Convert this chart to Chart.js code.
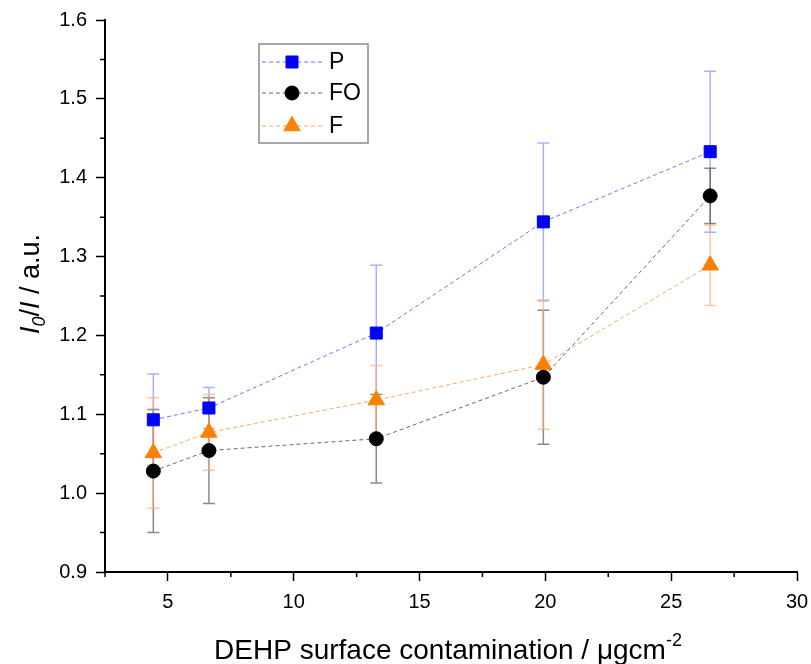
<!DOCTYPE html>
<html>
<head>
<meta charset="utf-8">
<script src="https://cdn.jsdelivr.net/npm/chart.js@4/dist/chart.umd.min.js"></script>
<style>
  html, body { margin: 0; padding: 0; background: #fff; }
  #wrap { width: 811px; height: 664px; }
</style>
</head>
<body>
<div id="wrap"><canvas id="chart"></canvas></div>
<script>
// Data
const contamination = [4.42, 6.63, 13.28, 19.92, 26.55];
const seriesNames = ['P', 'FO', 'F'];
const pValues  = [1.093, 1.108, 1.203, 1.344, 1.433];
const pErrors  = [0.058, 0.026, 0.086, 0.100, 0.102];
const foValues = [1.028, 1.054, 1.069, 1.147, 1.377];
const foErrors = [0.078, 0.067, 0.056, 0.085, 0.035];
const fValues  = [1.051, 1.077, 1.118, 1.163, 1.289];
const fErrors  = [0.070, 0.048, 0.044, 0.082, 0.051];
const xTicks = [5, 10, 15, 20, 25, 30];
const yTicks = [0.9, 1.0, 1.1, 1.2, 1.3, 1.4, 1.5, 1.6];

const FONT = '"Liberation Sans", Arial, sans-serif';

function points(values) {
    return contamination.map((x, i) => ({ x: x, y: values[i] }));
}

// Error bars, drawn under the markers
const errorBars = {
    id: 'errorBars',
    beforeDatasetsDraw(chart) {
        const { ctx, scales: { x, y } } = chart;
        chart.data.datasets.forEach(ds => {
            ctx.save();
            ctx.strokeStyle = ds.errorColor;
            ctx.lineWidth = 1.5;
            ds.data.forEach((p, i) => {
                const px = x.getPixelForValue(p.x);
                const top = y.getPixelForValue(p.y + ds.errors[i]);
                const bot = y.getPixelForValue(p.y - ds.errors[i]);
                ctx.beginPath();
                ctx.moveTo(px, top); ctx.lineTo(px, bot);
                ctx.moveTo(px - 6, top); ctx.lineTo(px + 6, top);
                ctx.moveTo(px - 6, bot); ctx.lineTo(px + 6, bot);
                ctx.stroke();
            });
            ctx.restore();
        });
    }
};

// Minor ticks, axis titles and the boxed legend
const decorations = {
    id: 'decorations',
    afterDraw(chart) {
        const { ctx, chartArea: area, scales: { x, y } } = chart;
        ctx.save();
        ctx.strokeStyle = '#000';
        ctx.lineWidth = 1.5;
        ctx.beginPath();
        for (let i = 0; i < xTicks.length; i++) {
            const px = x.getPixelForValue(xTicks[i] - 2.5);
            ctx.moveTo(px, area.bottom); ctx.lineTo(px, area.bottom + 5);
        }
        for (let i = 0; i < yTicks.length - 1; i++) {
            const py = y.getPixelForValue(yTicks[i] + 0.05);
            ctx.moveTo(area.left, py); ctx.lineTo(area.left - 5, py);
        }
        ctx.stroke();

        // x title with superscript
        ctx.fillStyle = '#000';
        ctx.textBaseline = 'alphabetic';
        ctx.textAlign = 'left';
        const main = 'DEHP surface contamination / \u03bcgcm';
        ctx.font = '28px ' + FONT;
        const wMain = ctx.measureText(main).width;
        ctx.font = '18px ' + FONT;
        const wSup = ctx.measureText('-2').width;
        const sx = 448 - (wMain + wSup) / 2;
        ctx.font = '28px ' + FONT;
        ctx.fillText(main, sx, 659);
        ctx.font = '18px ' + FONT;
        ctx.fillText('-2', sx + wMain, 646);

        // y title, rotated, with italic I and subscript 0
        const parts = [
            { t: 'I', f: 'italic 27px ' + FONT, dy: 0 },
            { t: '0', f: 'italic 18px ' + FONT, dy: 6 },
            { t: '/', f: '27px ' + FONT, dy: 0 },
            { t: 'I', f: 'italic 27px ' + FONT, dy: 0 },
            { t: ' / a.u.', f: '27px ' + FONT, dy: 0 }
        ];
        let total = 0;
        parts.forEach(p => { ctx.font = p.f; p.w = ctx.measureText(p.t).width; total += p.w; });
        ctx.translate(39, 284);
        ctx.rotate(-Math.PI / 2);
        let cx = -total / 2;
        parts.forEach(p => { ctx.font = p.f; ctx.fillText(p.t, cx, p.dy); cx += p.w; });
        ctx.setTransform(1, 0, 0, 1, 0, 0);

        // legend
        const lx = 259, ly = 44, lw = 109, lh = 99;
        ctx.strokeStyle = '#8c8c8c';
        ctx.lineWidth = 1.5;
        ctx.strokeRect(lx, ly, lw, lh);
        const rowY = [62, 93, 126];
        chart.data.datasets.forEach((ds, i) => {
            const yy = rowY[i];
            ctx.save();
            ctx.strokeStyle = ds.borderColor;
            ctx.lineWidth = 1;
            ctx.setLineDash([4, 3]);
            ctx.beginPath();
            ctx.moveTo(262, yy); ctx.lineTo(322, yy);
            ctx.stroke();
            ctx.restore();
            ctx.save();
            ctx.fillStyle = ds.pointBackgroundColor;
            ctx.strokeStyle = ds.pointBorderColor;
            ctx.lineWidth = 1;
            Chart.helpers.drawPoint(ctx, {
                pointStyle: ds.pointStyle, radius: ds.pointRadius, rotation: 0, borderWidth: 1
            }, 292, yy);
            ctx.restore();
            ctx.fillStyle = '#000';
            ctx.font = '23px ' + FONT;
            ctx.textBaseline = 'middle';
            ctx.textAlign = 'left';
            ctx.fillText(ds.label, 329, yy + 1);
        });
        ctx.restore();
    }
};

const ctx = document.getElementById('chart').getContext('2d');
const chart = new Chart(ctx, {
    type: 'scatter',
    data: {
        datasets: [
            {
                label: seriesNames[0], data: points(pValues), errors: pErrors,
                showLine: true, borderColor: 'rgba(90,90,255,0.85)', borderWidth: 1, borderDash: [4, 3],
                pointStyle: 'rect', pointRadius: 8.5, pointBackgroundColor: '#0000ff',
                pointBorderColor: '#0000ff', pointBorderWidth: 1,
                errorColor: 'rgba(120,120,255,0.6)'
            },
            {
                label: seriesNames[1], data: points(foValues), errors: foErrors,
                showLine: true, borderColor: 'rgba(80,80,80,0.85)', borderWidth: 1, borderDash: [4, 3],
                pointStyle: 'circle', pointRadius: 7, pointBackgroundColor: '#000',
                pointBorderColor: '#000', pointBorderWidth: 1,
                errorColor: 'rgba(60,60,60,0.6)'
            },
            {
                label: seriesNames[2], data: points(fValues), errors: fErrors,
                showLine: true, borderColor: 'rgba(255,150,60,0.85)', borderWidth: 1, borderDash: [4, 3],
                pointStyle: 'triangle', pointRadius: 9.5, pointBackgroundColor: '#ff7f00',
                pointBorderColor: '#ff7f00', pointBorderWidth: 1,
                errorColor: 'rgba(255,170,100,0.65)'
            }
        ]
    },
    options: {
        responsive: true,
        maintainAspectRatio: false,
        animation: false,
        layout: { padding: { top: 20, right: 14, left: 0, bottom: 0 } },
        plugins: {
            legend: { display: false },
            tooltip: { enabled: false }
        },
        scales: {
            x: {
                type: 'linear', min: 2.5, max: 30,
                afterBuildTicks: axis => { axis.ticks = xTicks.map(v => ({ value: v })); },
                afterFit: axis => { axis.height = 92; axis.paddingRight = 0; axis.paddingLeft = 0; },
                grid: { drawOnChartArea: false, drawTicks: true, tickLength: 9, tickWidth: 1.5, tickColor: '#000' },
                border: { display: true, color: '#000', width: 2 },
                ticks: { color: '#000', font: { family: FONT, size: 20 }, padding: 9, maxRotation: 0 }
            },
            y: {
                type: 'linear', min: 0.9, max: 1.6,
                afterBuildTicks: axis => { axis.ticks = yTicks.map(v => ({ value: v })); },
                afterFit: axis => { axis.width = 105; axis.paddingTop = 0; axis.paddingBottom = 0; },
                grid: { drawOnChartArea: false, drawTicks: true, tickLength: 9, tickWidth: 1.5, tickColor: '#000' },
                border: { display: true, color: '#000', width: 2 },
                ticks: { color: '#000', font: { family: FONT, size: 20 }, padding: 9,
                         callback: v => v.toFixed(1) }
            }
        }
    },
    plugins: [errorBars, decorations]
});
</script>
</body>
</html>
